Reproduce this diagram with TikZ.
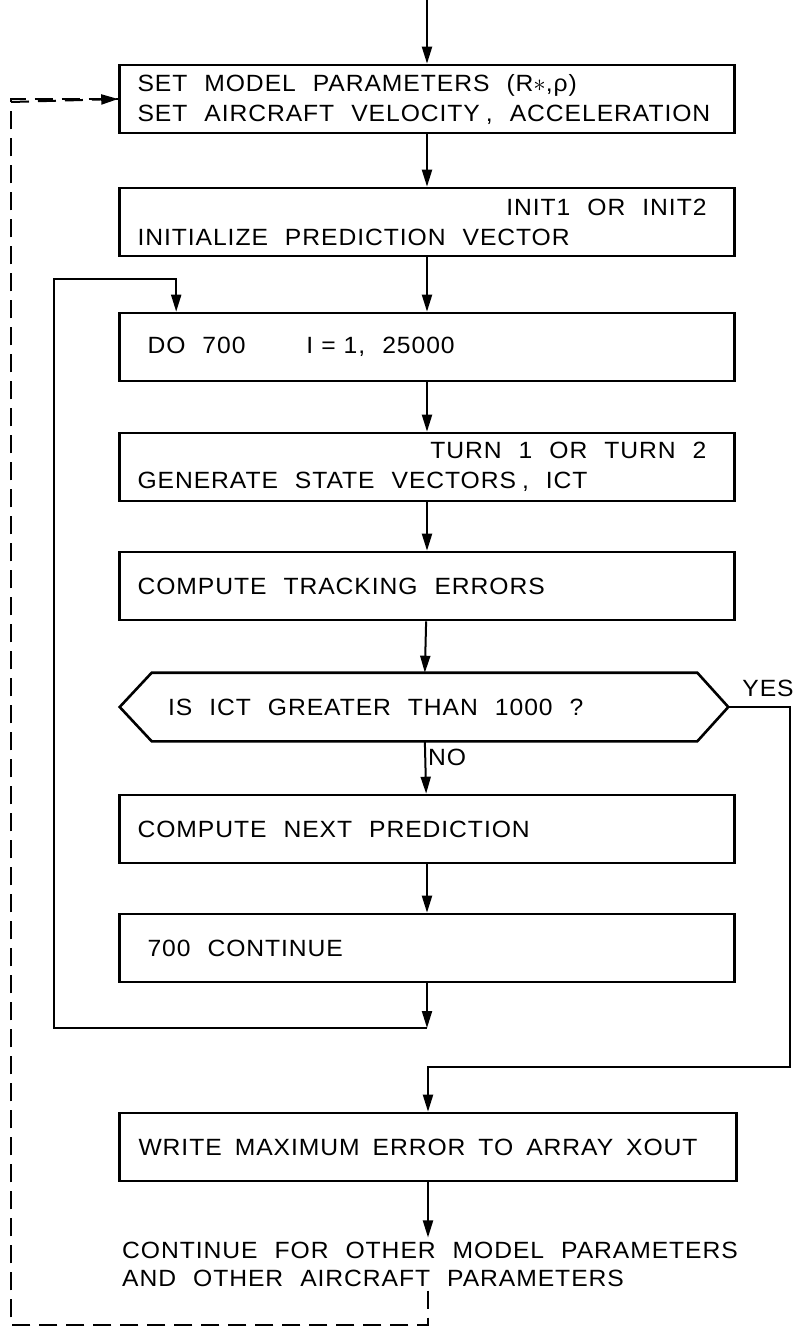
\documentclass[tikz,border=0pt]{standalone}
\usepackage{fontspec}
\setmainfont{Liberation Sans}[FakeStretch=1.05,LetterSpace=4]
\usepackage{tikz}
\usetikzlibrary{calc}
\usetikzlibrary{arrows.meta}

\newcommand{\flowfont}{\fontsize{23.5}{30}\selectfont\spaceskip=17pt plus 3pt\relax}
\newcommand{\notefont}{\fontsize{23.5}{28}\selectfont\spaceskip=17pt plus 3pt\relax}
\tikzset{
 box/.style={draw, line width=2.6pt, minimum width=615pt, minimum height=68pt,
   text width=579pt, inner xsep=18pt, align=flush left, font=\flowfont},
 flow/.style={line width=2pt, -{Triangle[length=17pt,width=10pt]}},
 back/.style={line width=2pt, dash pattern=on 18pt off 9pt},
 lbl/.style={font=\flowfont, inner sep=2pt},
 note/.style={align=left, inner sep=4pt, font=\notefont}
}

\begin{document}
\begin{tikzpicture}[x=1pt,y=-1pt]
\useasboundingbox (0,0) rectangle (796,1327);

\node[box] (setpar) at (427,99) {SET MODEL PARAMETERS (R$\ast$,ρ)\\SET AIRCRAFT VELOCITY\kern6pt, ACCELERATION};
\node[box] (init) at (427,222) {\hfill INIT1 OR INIT2\kern10pt\\INITIALIZE PREDICTION VECTOR};
\node[box] (doloop) at (427,347) {\kern10pt DO 700\hspace{61pt}I\kern8pt=\kern8pt1, 25000};
\node[box] (gen) at (427,467) {\hfill TURN 1 OR TURN 2\kern10pt\\GENERATE STATE VECTORS\kern6pt, ICT};
\node[box] (track) at (427,586) {COMPUTE TRACKING ERRORS};
\node[box, draw=none, minimum width=606pt, minimum height=66pt, text width=512pt, inner xsep=47pt] (test) at (424,707) {IS ICT GREATER THAN 1000 ?};
\draw[line width=2.6pt] (test.west) -- ($(test.north west)+(32,0)$) -- ($(test.north east)+(-31,0)$) -- (test.east)
  -- ($(test.south east)+(-31,0)$) -- ($(test.south west)+(32,0)$) -- cycle;
\node[box] (next) at (427,829) {COMPUTE NEXT PREDICTION};
\node[box] (cont) at (427,948) {\kern10pt 700 CONTINUE};
\node[box, minimum width=617pt] (write) at (428,1147) {\mbox{\spaceskip=13pt WRITE MAXIMUM ERROR TO ARRAY XOUT}};
\node[note, anchor=west] (other) at (118,1264) {CONTINUE FOR OTHER MODEL PARAMETERS\\AND OTHER AIRCRAFT PARAMETERS};

\coordinate (entry) at (427,0);
\coordinate (loopend) at (427,1028);

\draw[flow] (entry) -- (setpar);
\draw[flow] (setpar) -- (init);
\draw[flow] (init) -- (doloop);
\draw[flow] (doloop) -- (gen);
\draw[flow] (gen) -- (track);
\draw[flow] (track) -- (test);
\draw[flow] (test) -- node[lbl, right, pos=.3] (no) {NO} (next);
\draw[flow] (next) -- (cont);
\draw[flow] (cont) -- (loopend);
\draw[flow] (loopend) -| (54,279) -| ($(doloop.north west)+(58,0)$);
\draw[flow] (test.east) -| (790,1067) -| (write);
\node[lbl] (yes) at (768,688) {YES};
\draw[flow] (write) -- (write.south |- other.north);
\draw[back] (other.south -| write.south) |- (11,1325) |- (setpar.west);
\draw[back, -{Triangle[length=17pt,width=10pt]}] (11,102) -- (setpar.west);
\end{tikzpicture}
\end{document}
